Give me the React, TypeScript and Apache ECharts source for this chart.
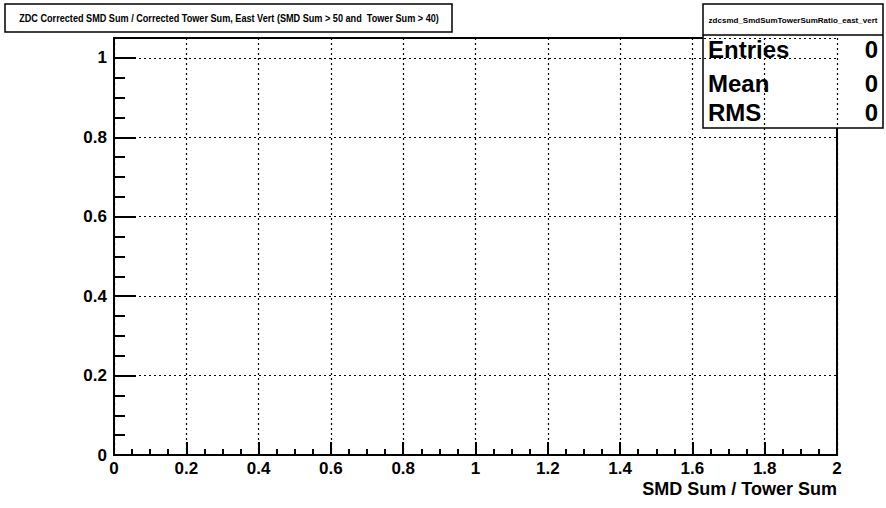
import React, { useEffect, useRef } from "react";
import * as echarts from "echarts";

const xTicks = [0, 0.2, 0.4, 0.6, 0.8, 1, 1.2, 1.4, 1.6, 1.8, 2];
const yTicks = [0, 0.2, 0.4, 0.6, 0.8, 1];
const histValues: [number, number][] = []; // empty histogram: 0 entries
const titleText = "ZDC Corrected SMD Sum / Corrected Tower Sum, East Vert (SMD Sum > 50 and  Tower Sum > 40)";
const statsName = "zdcsmd_SmdSumTowerSumRatio_east_vert";
const statsLabels = ["Entries", "Mean", "RMS"];
const statsValues = ["0", "0", "0"];
const xTitle = "SMD Sum / Tower Sum";

const FONT = "'Liberation Sans', Arial, Helvetica, sans-serif";

export default function App() {
  const ref = useRef<HTMLDivElement>(null);
  useEffect(() => {
    if (!ref.current) return;
    const chart = echarts.init(ref.current, undefined, { renderer: "svg" });
    const fmt = (v: number, list: number[]) =>
      list.some((t) => Math.abs(t - v) < 1e-9) ? String(+v.toFixed(1)) : "";
    const rowTops = [37, 71, 100];
    const statRows = statsLabels.map((l, i) => [
      {
        type: "text",
        left: 708,
        top: rowTops[i],
        style: { text: l, font: `bold 24px ${FONT}`, fill: "#000" },
      },
      {
        type: "text",
        right: 886 - 878,
        top: rowTops[i],
        style: { text: statsValues[i], font: `bold 24px ${FONT}`, fill: "#000", textAlign: "right" },
      },
    ]).flat();
    chart.setOption({
      animation: false,
      backgroundColor: "#fff",
      grid: {
        left: 114,
        top: 38,
        right: 49,
        bottom: 53,
        show: true,
        borderColor: "#000",
        borderWidth: 2,
      },
      xAxis: {
        type: "value",
        min: 0,
        max: 2,
        interval: 0.2,
        axisLine: { show: true, onZero: false, lineStyle: { color: "#000", width: 2 } },
        axisTick: { show: true, inside: true, length: 13, lineStyle: { color: "#000", width: 2 } },
        minorTick: { show: true, splitNumber: 4, length: 6, lineStyle: { color: "#000", width: 2 } },
        axisLabel: {
          margin: 5,
          color: "#000",
          fontFamily: FONT,
          fontWeight: "bold",
          fontSize: 17,
          formatter: (v: number) => fmt(v, xTicks),
        },
        splitLine: { show: true, lineStyle: { color: "#000", width: 1.2, type: [2, 3] } },
      },
      yAxis: {
        type: "value",
        min: 0,
        max: 1.05,
        interval: 0.2,
        axisLine: { show: true, onZero: false, lineStyle: { color: "#000", width: 2 } },
        axisTick: { show: true, inside: true, length: 22, lineStyle: { color: "#000", width: 2 } },
        minorTick: { show: true, splitNumber: 4, length: 11, lineStyle: { color: "#000", width: 2 } },
        axisLabel: {
          margin: 7,
          color: "#000",
          fontFamily: FONT,
          fontWeight: "bold",
          fontSize: 17,
          showMaxLabel: false,
          formatter: (v: number) => fmt(v, yTicks),
        },
        splitLine: { show: true, lineStyle: { color: "#000", width: 1.2, type: [2, 3] } },
      },
      series: [
        {
          type: "bar",
          data: histValues,
          barWidth: "100%",
          itemStyle: { color: "#000" },
        },
      ],
      graphic: [
        {
          type: "rect",
          shape: { x: 5, y: 4, width: 447, height: 28 },
          style: { fill: "#fff", stroke: "#000", lineWidth: 1.5 },
        },
        {
          type: "text",
          x: 229,
          y: 18,
          scaleX: 0.83,
          style: {
            text: titleText,
            font: `bold 11px ${FONT}`,
            fill: "#000",
            textAlign: "center",
            textVerticalAlign: "middle",
          },
        },
        {
          type: "rect",
          shape: { x: 703, y: 4, width: 180, height: 124 },
          style: { fill: "#fff", stroke: "#000", lineWidth: 1.5 },
        },
        {
          type: "line",
          shape: { x1: 703, y1: 35, x2: 883, y2: 35 },
          style: { stroke: "#000", lineWidth: 1.5 },
        },
        {
          type: "text",
          x: 793,
          y: 20,
          style: {
            text: statsName,
            font: `bold 8px ${FONT}`,
            fill: "#000",
            textAlign: "center",
            textVerticalAlign: "middle",
          },
        },
        ...statRows,
        {
          type: "text",
          right: 886 - 837,
          top: 480,
          style: { text: xTitle, font: `bold 18px ${FONT}`, fill: "#000", textAlign: "right" },
        },
      ],
    });
    return () => chart.dispose();
  }, []);
  return <div ref={ref} style={{ width: 886, height: 508, position: "fixed", left: 0, top: 0 }} />;
}
